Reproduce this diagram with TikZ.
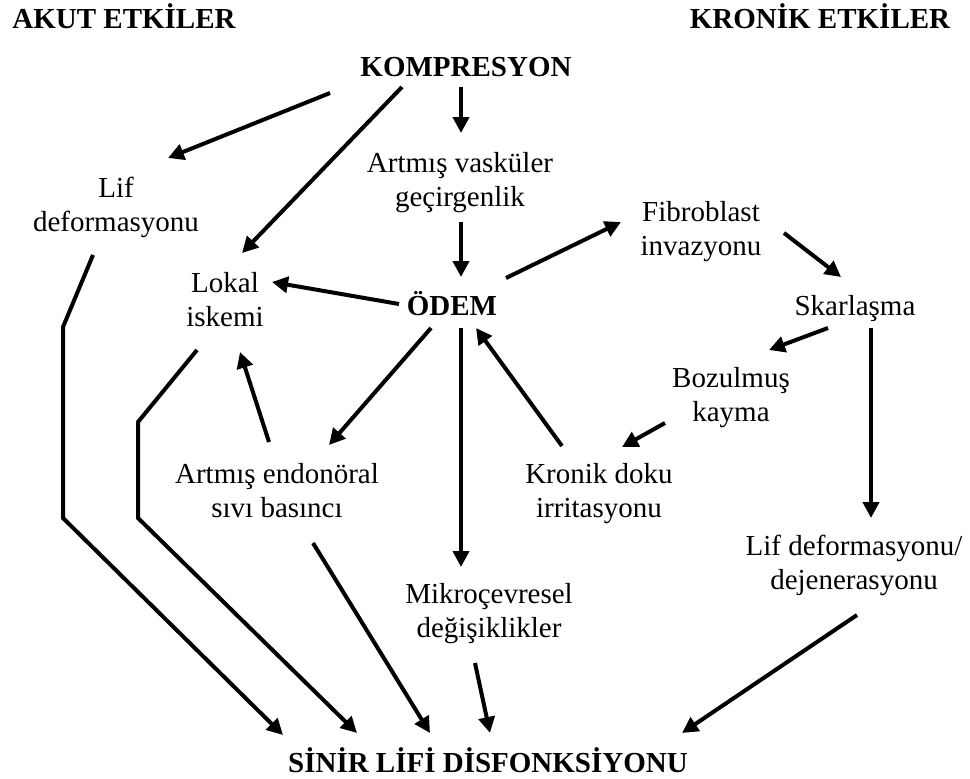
\documentclass[tikz,border=0pt]{standalone}
\usepackage{fontspec}
\setmainfont{Liberation Serif}
\usetikzlibrary{arrows.meta,calc}
\begin{document}
\begin{tikzpicture}[x=0.75pt,y=-0.75pt,
  txt/.style={font=\fontsize{21.75pt}{25.5pt}\selectfont, align=center, inner sep=0pt, anchor=base},
  hd/.style={txt, font=\fontsize{21.75pt}{25.5pt}\selectfont\bfseries},
  arr/.style={line width=3pt, -{Triangle[length=12pt,width=12pt]}}]
\useasboundingbox (0,0) rectangle (970,778);

% single-line nodes: base = baseline; two-line nodes: base = baseline of last line
\node[hd] (akut) at (124,28) {AKUT ETKİLER};
\node[hd] (kron0) at (820,28) {KRONİK ETKİLER};
\node[hd] (komp) at (466,76) {KOMPRESYON};
\node[txt] (lif) at (116,231) {Lif\\deformasyonu};
\node[txt] (vask) at (460,206) {Artmış vasküler\\geçirgenlik};
\node[txt] (fibro) at (701,255) {Fibroblast\\invazyonu};
\node[txt] (lokal) at (225,326) {Lokal\\iskemi};
\node[hd] (odem) at (452,315) {ÖDEM};
\node[txt] (skar) at (855,315) {Skarlaşma};
\node[txt] (boz) at (731,421) {Bozulmuş\\kayma};
\node[txt] (endo) at (277,517) {Artmış endonöral\\sıvı basıncı};
\node[txt] (kron) at (599,517) {Kronik doku\\irritasyonu};
\node[txt] (lifdef) at (854,589) {Lif deformasyonu/\\dejenerasyonu};
\node[txt] (mikro) at (489,637) {Mikroçevresel\\değişiklikler};
\node[hd] (sinir) at (488,772) {SİNİR LİFİ DİSFONKSİYONU};

\draw[arr] ($(komp.base)+(-136,17)$) -- ($(lif.base)+(52,-73)$);
\draw[arr] ($(komp.base)+(-64,11)$) -- ($(lokal.base)+(17,-73)$);
\draw[arr] ($(komp.base)+(-5,11)$) -- ($(vask.base)+(1,-73)$);
\draw[arr] ($(vask.base)+(1,16)$) -- ($(odem.base)+(9,-38)$);
\draw[arr] ($(odem.base)+(-53,-11)$) -- ($(lokal.base)+(47,-44)$);
\draw[arr] ($(odem.base)+(54,-37)$) -- ($(fibro.base)+(-80,-33)$);
\draw[arr] ($(fibro.base)+(83,-22)$) -- ($(skar.base)+(-14,-38)$);
\draw[arr] ($(skar.base)+(-27,13)$) -- ($(boz.base)+(38,-71)$);
\draw[arr] ($(skar.base)+(16,13)$) -- ($(lifdef.base)+(17,-71)$);
\draw[arr] ($(boz.base)+(-66,2)$) -- ($(kron.base)+(23,-70)$);
\draw[arr] ($(kron.base)+(-37,-71)$) -- ($(odem.base)+(24,13)$);
\draw[arr] ($(odem.base)+(-21,13)$) -- ($(endo.base)+(52,-72)$);
\draw[arr] ($(odem.base)+(9,13)$) -- ($(mikro.base)+(-28,-70)$);
\draw[arr] ($(endo.base)+(-8,-75)$) -- ($(lokal.base)+(15,26)$);
\draw[arr] ($(lif.base)+(-23,24)$) -- ++(-30,72) -- ++(0,191) -- ($(sinir.base)+(-205,-37)$);
\draw[arr] ($(lokal.base)+(-28,24)$) -- ++(-59,72) -- ++(0,96) -- ($(sinir.base)+(-131,-39)$);
\draw[arr] ($(endo.base)+(36,26)$) -- ($(sinir.base)+(-58,-39)$);
\draw[arr] ($(mikro.base)+(-14,26)$) -- ($(sinir.base)+(2,-39)$);
\draw[arr] ($(lifdef.base)+(3,26)$) -- ($(sinir.base)+(194,-39)$);
\end{tikzpicture}
\end{document}
